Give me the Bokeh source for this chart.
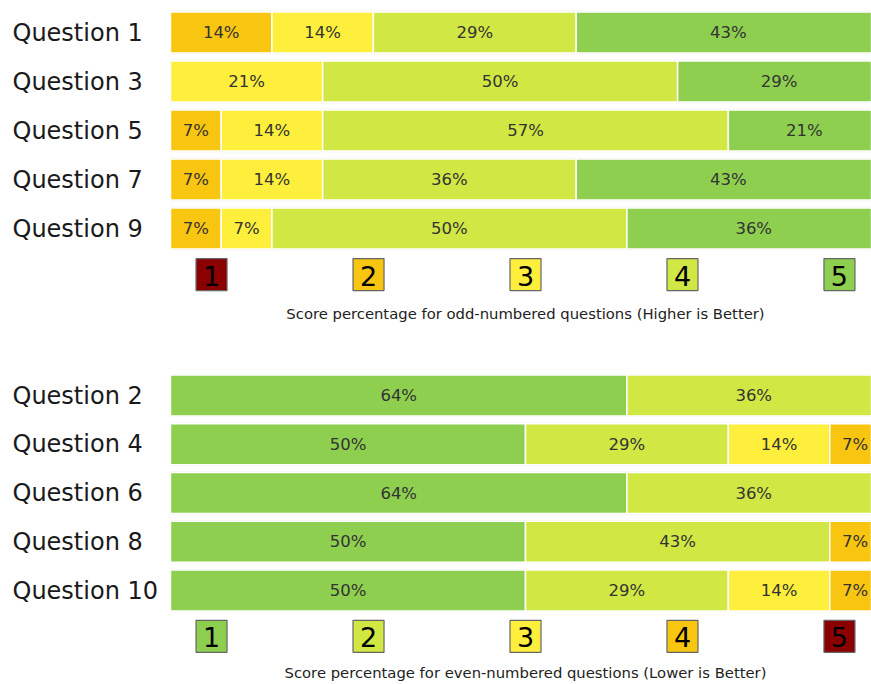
from bokeh.plotting import figure
from bokeh.models import ColumnDataSource, Range1d
from bokeh.layouts import column
from bokeh.embed import file_html
from bokeh.resources import INLINE
from bokeh.core.properties import value

# ---------------- data (responses per score 1..5, out of 14) ----------------
N_RESPONSES = 14
scores = ["1", "2", "3", "4", "5"]

odd_questions = ["Question 1", "Question 3", "Question 5", "Question 7", "Question 9"]
q1 = [0, 2, 2, 4, 6]     # 14% 14% 29% 43%
q3 = [0, 0, 3, 7, 4]     # 21% 50% 29%
q5 = [0, 1, 2, 8, 3]     # 7% 14% 57% 21%
q7 = [0, 1, 2, 5, 6]     # 7% 14% 36% 43%
q9 = [0, 1, 1, 7, 5]     # 7% 7% 50% 36%

even_questions = ["Question 2", "Question 4", "Question 6", "Question 8", "Question 10"]
q2 = [9, 5, 0, 0, 0]     # 64% 36%
q4 = [7, 4, 2, 1, 0]     # 50% 29% 14% 7%
q6 = [9, 5, 0, 0, 0]     # 64% 36%
q8 = [7, 6, 0, 1, 0]     # 50% 43% 7%
q10 = [7, 4, 2, 1, 0]    # 50% 29% 14% 7%

odd_caption = "Score percentage for odd-numbered questions (Higher is Better)"
even_caption = "Score percentage for even-numbered questions (Lower is Better)"

RED, ORANGE, YELLOW, LIME, GREEN = "#8b0000", "#f8c511", "#fdef3b", "#d1e743", "#8ecf50"
odd_colors = [RED, ORANGE, YELLOW, LIME, GREEN]
even_colors = [GREEN, LIME, YELLOW, ORANGE, RED]

# ---------------- layout ----------------
W = 871
H = 342
LEFT_PX = 170.0          # where 0% sits
PX_PER_PCT = 7.1         # 100% spans 710 px
FONT = "DejaVu Sans"


def make_panel(questions, rows, colors, caption, row0_px, pitch, caption_y):
    x0 = -LEFT_PX / PX_PER_PCT
    x1 = (W - LEFT_PX) / PX_PER_PCT
    y_top = -row0_px / pitch
    y_bot = (H - row0_px) / pitch
    p = figure(width=W, height=H, output_backend="svg", toolbar_location=None,
               x_range=Range1d(x0, x1), y_range=Range1d(y_bot, y_top),
               x_axis_location=None, y_axis_location=None, min_border=0)
    p.grid.visible = False
    p.outline_line_color = None
    p.background_fill_color = "white"
    p.border_fill_color = "white"

    # faint row background bands
    p.hbar(y=list(range(len(questions))), left=0, right=110, height=0.885,
           fill_color="#e9e9ea", line_color=None)

    lefts, rights, ys, cols, labs, mids = [], [], [], [], [], []
    for i, counts in enumerate(rows):
        acc = 0.0
        for k, c in enumerate(counts):
            if c == 0:
                continue
            pct = 100.0 * c / N_RESPONSES
            lefts.append(acc)
            rights.append(acc + pct)
            ys.append(i)
            cols.append(colors[k])
            labs.append(f"{round(pct)}%")
            mids.append(acc + pct / 2)
            acc += pct
    src = ColumnDataSource(dict(left=lefts, right=rights, y=ys, color=cols,
                                lab=labs, mid=mids))
    p.hbar(y="y", left="left", right="right", height=0.84, fill_color="color",
           line_color="white", line_width=1.5, source=src)
    p.text(x="mid", y="y", text="lab", source=src, text_align="center",
           text_baseline="middle", text_font=value(FONT),
           text_font_size="16.5px", text_color="#333333")

    # question labels
    p.text(x=[(12 - LEFT_PX) / PX_PER_PCT] * len(questions),
           y=list(range(len(questions))), text=questions, text_align="left",
           text_baseline="middle", text_font=value(FONT),
           text_font_size="24px", text_color="#1a1a1a")

    # score key boxes
    key_x = [50 + (j - 2) * 22.11 for j in range(5)]
    key_y = 4.94
    p.rect(x=key_x, y=[key_y] * 5, width=31, height=32, width_units="screen",
           height_units="screen", fill_color=colors, line_color="#666666",
           line_width=1.2)
    p.text(x=key_x, y=[key_y + 0.02] * 5, text=scores, text_align="center",
           text_baseline="middle", text_font=value(FONT),
           text_font_size="27px", text_color="black")

    # caption
    p.text(x=[50], y=[caption_y], text=[caption], text_align="center",
           text_baseline="middle", text_font=value(FONT),
           text_font_size="14.8px", text_color="#222222")
    return p


top = make_panel(odd_questions, [q1, q3, q5, q7, q9], odd_colors, odd_caption,
                 32, 49.0, 5.74)
bottom = make_panel(even_questions, [q2, q4, q6, q8, q10], even_colors, even_caption,
                    53, 48.75, 5.68)

layout = column(top, bottom, spacing=0)
open("out.html", "w").write(file_html(layout, INLINE))
